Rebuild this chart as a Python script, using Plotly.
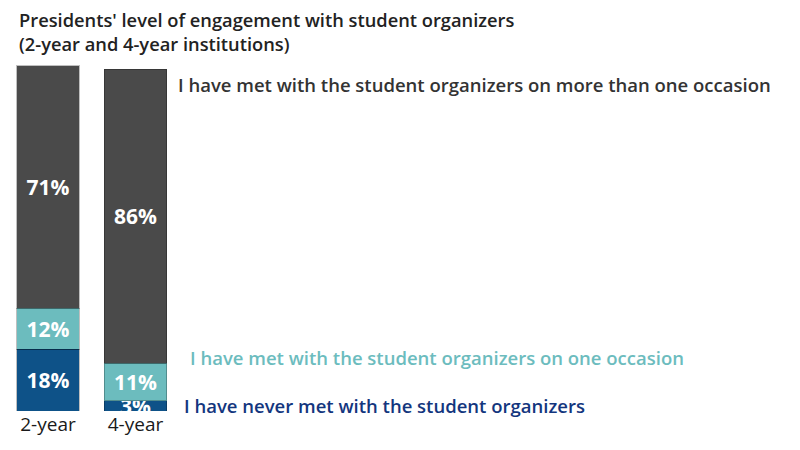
import plotly.graph_objects as go

# Survey data
institutions = ["2-year", "4-year"]
never_met = [18, 3]
met_once = [12, 11]
met_more = [71, 86]

series_names = [
    "I have never met with the student organizers",
    "I have met with the student organizers on one occasion",
    "I have met with the student organizers on more than one occasion",
]
title_lines = [
    "Presidents' level of engagement with student organizers",
    "(2-year and 4-year institutions)",
]

colors = ["#0e5288", "#6cbcbe", "#4a4a4a"]
label_colors = ["#13367e", "#6cbcbe", "#333333"]
FONT = "Open Sans"

# page draws the figure 8px in from the top-left, so work in figure pixels
T, B = 43.9, 47
PLOT_H = 450 - T - B


def py(px_y):
    return (450 - B - px_y) / PLOT_H


fig = go.Figure()
for name, vals, col in zip(series_names, [never_met, met_once, met_more], colors):
    fig.add_trace(go.Bar(
        x=institutions,
        y=vals,
        name=name,
        width=0.71,
        marker=dict(color=col, line=dict(color="rgba(0,0,0,0.25)", width=1)),
        text=[f"{v}%" for v in vals],
        textposition="inside",
        insidetextanchor="middle",
        textangle=0,
        constraintext="none",
        textfont=dict(family=FONT, size=21, color="white", weight="bold"),
        hoverinfo="skip",
    ))

# labels to the right of the bars
label_pos = [(174, 397), (180, 349), (168, 76)]
for name, col, (lx, ly) in zip(series_names, label_colors, label_pos):
    fig.add_annotation(
        text=name, xref="paper", yref="paper",
        x=lx / 800, y=py(ly),
        xanchor="left", yanchor="middle", showarrow=False,
        font=dict(family=FONT, size=18.5, color=col, weight=600),
    )

# two-line title
for line, ty in zip(title_lines, [11, 35]):
    fig.add_annotation(
        text=line, xref="paper", yref="paper",
        x=9 / 800, y=py(ty),
        xanchor="left", yanchor="middle", showarrow=False,
        font=dict(family=FONT, size=18.3, color="#222222", weight=600),
    )

fig.update_layout(
    width=800, height=450,
    barmode="stack",
    showlegend=False,
    plot_bgcolor="white", paper_bgcolor="white",
    margin=dict(l=0, r=0, t=T, b=B),
    xaxis=dict(range=[-0.457, 8.686], showgrid=False, zeroline=False, showline=False,
               ticks="", tickfont=dict(family=FONT, size=19, color="#1a1a1a", weight=500)),
    yaxis=dict(range=[0, 105], visible=False),
)

fig.write_html("out.html")
